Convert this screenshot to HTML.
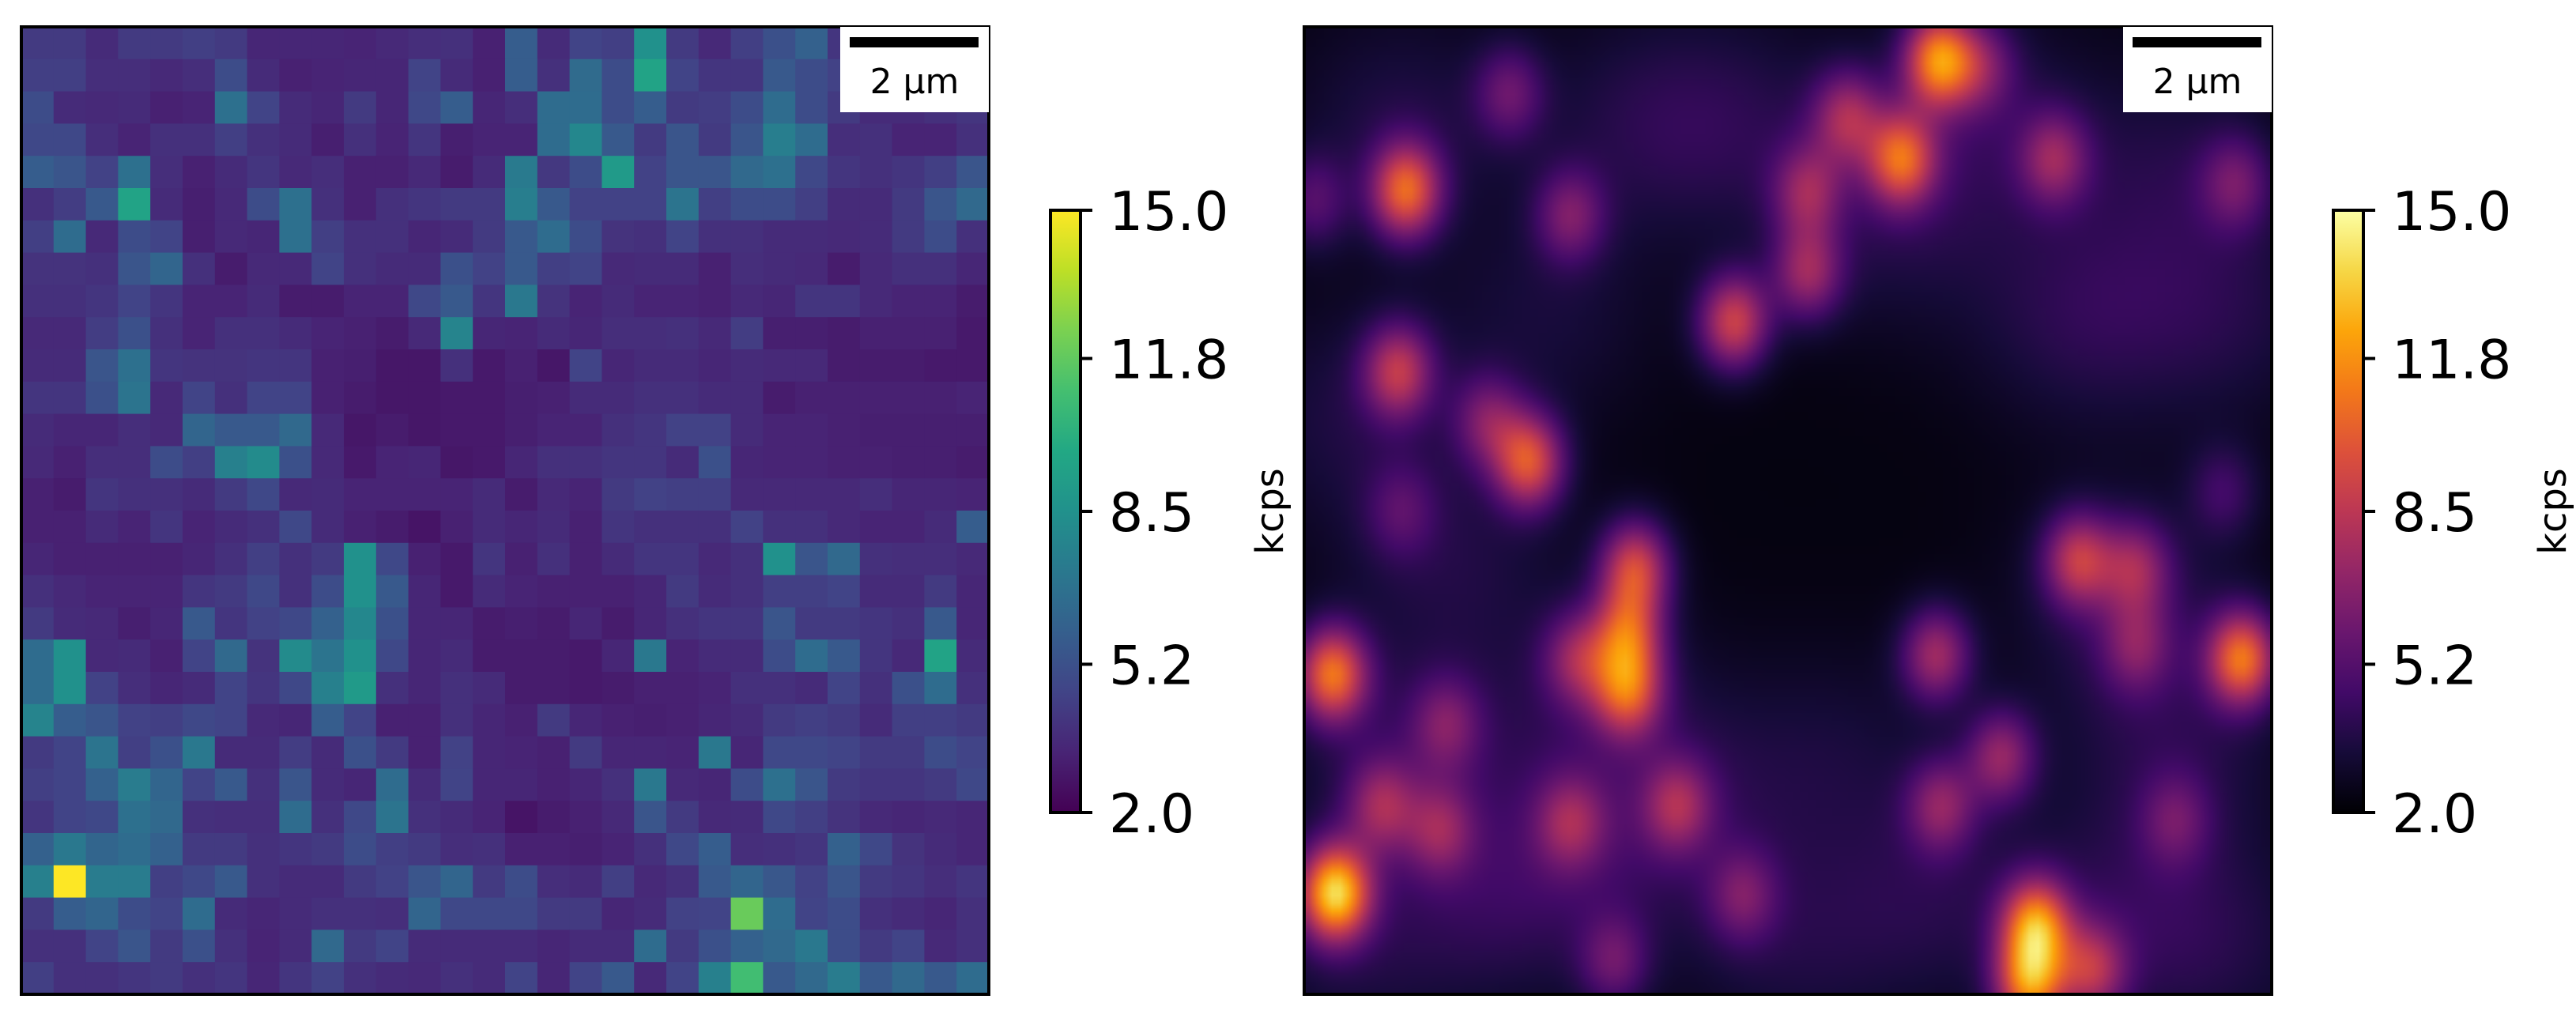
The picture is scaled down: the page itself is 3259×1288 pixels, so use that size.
<!DOCTYPE html>
<html>
<head>
<meta charset="utf-8">
<style>
html,body{margin:0;padding:0;background:#fff;}
body{width:3259px;height:1288px;position:relative;overflow:hidden;font-family:"DejaVu Sans","Liberation Sans",sans-serif;}
#chart{position:absolute;left:0;top:0;}
#right-canvas{position:absolute;left:1650px;top:34px;width:1224px;height:1224px;}
</style>
</head>
<body>
<canvas id="right-canvas" width="122" height="122"></canvas>
<svg id="chart" width="3259" height="1288" xmlns="http://www.w3.org/2000/svg">
  <defs>
    <linearGradient id="viridisGrad" x1="0" y1="1" x2="0" y2="0"></linearGradient>
    <linearGradient id="infernoGrad" x1="0" y1="1" x2="0" y2="0"></linearGradient>
  </defs>
  <g id="left-heatmap"></g>
  <rect x="27" y="34" width="1224" height="1224" fill="none" stroke="#000" stroke-width="4"/>
  <rect x="1650" y="34" width="1224" height="1224" fill="none" stroke="#000" stroke-width="4"/>

  <g>
    <rect x="1063" y="34" width="188" height="108" fill="#fff"/>
    <rect x="1075" y="47" width="163" height="13" fill="#000"/>
    <text x="1157" y="118" font-size="44" text-anchor="middle" fill="#000">2 µm</text>
  </g>
  <g>
    <rect x="2686" y="34" width="188" height="108" fill="#fff"/>
    <rect x="2698" y="47" width="163" height="13" fill="#000"/>
    <text x="2780" y="118" font-size="44" text-anchor="middle" fill="#000">2 µm</text>
  </g>

  <g id="left-colorbar">
    <rect x="1329" y="266" width="38" height="762" fill="url(#viridisGrad)" stroke="#000" stroke-width="4"/>
  </g>
  <g id="right-colorbar">
    <rect x="2952" y="266" width="38" height="762" fill="url(#infernoGrad)" stroke="#000" stroke-width="4"/>
  </g>
  <text x="1610" y="647" font-size="48" text-anchor="middle" transform="rotate(-90 1610 647)" dominant-baseline="middle">kcps</text>
  <text x="3233" y="647" font-size="48" text-anchor="middle" transform="rotate(-90 3233 647)" dominant-baseline="middle">kcps</text>
</svg>
<script>
// ---- data ----
const cbTicks = [2.0, 5.2, 8.5, 11.8, 15.0];
const cbTickLabels = ["2.0", "5.2", "8.5", "11.8", "15.0"];
const vMin = 2.0;
const vMax = 15.0;
const rawRows = [
[4.2,4.2,3.6,4.2,4.2,4.4,4.2,3.4,3.4,3.4,3.3,3.5,3.7,3.8,3.2,5.8,3.6,4.6,4.4,8.5,4.2,3.5,4.4,5.2,6,4,4,4,4,4],
[4.4,4.4,3.7,3.7,3.5,3.7,5,3.6,3.2,3.3,3.4,3.4,4.6,3.6,3.2,5.8,3.8,6.5,5,9.5,4.6,4,4,5.6,5,4.5,4.2,4.2,4.2,4.2],
[5,3.6,3.5,3.6,3.2,3.3,6.8,4.6,3.6,3.4,4.2,3.4,4.8,5.8,3.4,3.7,6.6,6.6,5,5.8,4.2,4.3,5,6.6,5,4.2,3.6,3.6,3.8,4],
[4.8,4.8,3.7,3.3,3.8,3.8,4.4,3.8,3.6,3.1,3.8,3.3,4,3.1,3.3,3.3,6.6,8,5.6,4.2,5.4,4.2,5.4,7.5,6.6,3.7,3.8,3.3,3.3,3.8],
[5.8,5.4,4.5,6.8,3.7,3.2,3.6,4,3.5,3.7,3.2,3.2,3.5,3,3.6,7.3,4.1,5,9,4.5,5.4,5.4,6.4,6.8,4.8,4,3.8,4,4.4,5.4],
[3.8,4.3,5.6,9.5,3.6,3.1,3.5,5,6.8,3.8,3.2,3.8,4,4.2,4.2,7.5,5.6,4.5,4.5,4.5,7,4.4,5,5,4.4,3.6,3.6,4.2,5.4,6.4],
[4.4,6.6,3.5,5,4.6,3.1,3.5,3.4,6.8,4.4,3.8,3.8,3.4,3.6,4.2,5.6,6.6,5,3.9,3.8,4.6,3.8,3.8,3.6,3.6,3.5,3.6,4.2,5,3.8],
[3.9,3.9,3.8,5.4,6.2,3.8,3,3.5,3.5,4.6,3.8,3.6,3.6,5.2,4.5,5.6,4.4,4.6,3.5,3.6,3.6,3.2,3.7,3.6,3.5,3,3.5,3.8,3.8,3.4],
[3.8,3.8,4,4.6,4,3.3,3.3,3.6,3,3,3.3,3.3,4.8,5.6,4,7.2,3.9,3.3,3.6,3.3,3.3,3.2,3.5,3.4,4,4,3.5,3.3,3.3,3],
[3.5,3.5,4.3,5.2,3.8,3.3,3.8,3.8,3.6,3.3,3.2,3,3.5,7.8,3.4,3.3,3.6,3.4,3.7,3.7,3.8,3.5,4.3,3.1,3.1,3,3.2,3.2,3.2,2.9],
[3.6,3.6,5.4,6.8,4,3.9,3.9,4,4,3.2,3.1,2.8,2.8,3.8,2.9,3.2,2.8,4.6,3.4,3.6,3.6,3.4,3.6,3.5,3.5,3,3,3,2.9,2.9],
[4,4,5.2,7,3.5,4.6,3.8,4.6,4.6,3.2,3,2.8,2.8,2.9,2.9,3.1,3.2,3.6,3.6,3.8,3.8,3.6,3.6,3,3.2,3.2,3.2,3.2,3.2,3.3],
[3.6,3.4,3.4,3.7,3.5,6.2,5.6,5.6,6.4,3.5,2.8,3,2.8,2.9,2.9,3.1,3.3,3.3,3.8,4,4.5,4.5,3.6,3.3,3.3,3.2,3.1,3.1,3.1,3.1],
[3.5,3.2,3.7,3.7,5,4.4,7.6,8.2,5.2,3.5,2.9,3.3,3.4,2.8,2.9,3.4,3.8,3.8,4,4,3.6,5.2,3.4,3.3,3.3,3.2,3.2,3.1,3.1,3],
[3.2,3,4,3.8,3.8,3.6,4.2,4.8,3.5,3.6,3.3,3.3,3.3,3.3,3.6,3,3.5,3.3,4.2,4.5,4.4,4.4,3.5,3.5,3.5,3.5,3.7,3.4,3.4,3.3],
[3.2,3.2,3.6,3.3,4,3.3,3.6,3.8,4.8,3.6,3.2,3,2.7,3.2,3.6,3.4,3.6,3.2,4,3.8,3.8,3.8,4.5,3.8,3.8,3.5,3.3,3.3,3.6,5.8],
[3.4,3.2,3.2,3.2,3.2,3.4,3.8,4.4,3.8,4.2,8.5,4.8,3.2,2.9,4,3.2,3.8,3.2,3.6,4,4,3.5,3.8,8.5,5.4,6.4,3.8,3.7,3.7,3.5],
[3.8,3.5,3.3,3.3,3.3,4,4.2,4.8,3.8,5,8.5,5.6,3.4,2.9,3.6,3.3,3.2,3.2,3.2,3.4,4.2,3.6,3.8,4.4,4.4,4.6,3.6,3.6,4.2,3.4],
[4.2,3.6,3.5,3.1,3.4,5.6,4,4.5,4.8,6,8,5.2,3.4,3.4,3,3.1,3,3.4,3,3.4,3.8,4,4,5.4,4.2,4.2,4,3.8,5.6,3.4],
[6.6,8.5,3.5,3.6,3.2,4.6,6.4,3.9,8.2,7,8.5,4.8,3.4,3.6,3,3,3,2.9,3.4,7.2,3.3,3.6,3.6,5,6.6,5.6,4,3.5,9.5,3.6],
[6.6,8.5,4.5,3.7,3.4,3.6,4.6,4,4.8,7.6,9,3.8,3.4,3.8,3.6,3,3,2.9,3,3.2,3.2,3.3,3.8,3.8,3.6,4.6,3.8,5.2,6.6,3.8],
[7.8,5.8,5.4,4.5,4.4,4.8,4.6,3.5,3.4,5.8,4.6,3.2,3.2,3.8,3.4,3.2,4.2,3.4,3.2,3.1,3.2,3.4,3.6,4.2,4.4,4.2,3.6,4.4,4.4,4.2],
[4.2,4.6,7,4.4,5.2,7.2,3.6,3.6,4.3,3.6,5.2,4.2,3.2,4.5,3.4,3.3,3.2,4.2,3.4,3.4,3.3,7.2,3.4,4.8,4.8,4.6,4.2,4.2,5,4.6],
[4.4,4.6,6,7.4,6.2,4.6,5.6,3.8,5.4,3.6,3.4,6.6,3.6,4.6,3.4,3.4,3.2,3.4,3.8,7.2,3.5,3.4,5,6.8,5.4,4.2,4,4,4.2,4.8],
[4,4.6,4.8,6.8,6.4,3.8,3.7,3.7,6.6,3.8,4.8,7,3.8,3.6,3.3,2.7,3,3.2,3.5,5.4,4.2,3.5,3.6,4.8,4.4,3.9,3.5,3.4,3.5,3.4],
[6,7.2,6.2,6.6,6,4.2,4.2,3.8,4,4.2,5,4.4,4.2,3.7,3.8,3.2,3.2,3.1,3.3,3.8,4.8,5.8,3.7,3.8,4,6,4.8,3.9,3.6,3.4],
[7.6,15,7.4,7.4,4.4,4.8,5.6,3.8,3.6,3.6,4.2,4.5,5.4,6.2,4.2,5,3.7,3.6,4.4,3.5,3.8,5.6,6.2,5.5,4.5,5.4,4.2,4,3.7,4],
[4.2,5.8,6.2,5,4.6,6.6,3.6,3.4,3.6,3.8,3.8,3.7,6.2,4.8,4.8,4.8,4.2,4.2,3.4,3.6,4.5,4.6,12,6.6,4.6,5,3.8,3.6,3.4,3.8],
[3.8,3.8,4.6,5.4,4.2,5.2,3.8,3.3,3.6,6.4,4.2,4.6,3.6,3.6,3.6,3.6,3.4,3.6,3.6,6.6,4.2,5.2,6,6.4,7.2,5,4.2,4.6,3.5,3.8],
[4.4,3.8,3.8,4,4.2,3.8,4,3.4,4,4.5,3.8,3.6,3.5,3.8,3.6,4.6,3.4,4.6,5.6,3.5,4.6,7.6,11,5.6,6.4,7.4,5.6,6.4,5.6,6.6]
];
// smoothed image: spots (fractional x, y, amplitude kcps above background)
const spotX = [0.656,0.617,0.561,0.52,0.105,0.212,0.444,0.52,0.097,0.232,0.19,0.275,0.775,0.962,0.342,0.334,0.334,0.283,0.029,0.8,0.859,0.969,0.653,0.72,0.658,0.032,0.08,0.14,0.756,0.75,0.814,0.386,0.275,0.453,0.32,0.147,0.86,0.7,0.01,0.1,0.95,0.9];
const spotY = [0.034,0.136,0.093,0.17,0.169,0.068,0.305,0.254,0.356,0.449,0.407,0.195,0.136,0.161,0.559,0.627,0.686,0.653,0.669,0.551,0.559,0.653,0.649,0.754,0.805,0.895,0.805,0.83,0.929,0.99,0.975,0.805,0.822,0.898,0.966,0.72,0.64,0.04,0.18,0.5,0.48,0.82];
const spotAmp = [8.5,7,4.5,4,7.5,3,6.5,4.5,5.5,7,3.5,3.5,4,3,6.5,6,6.5,4,8,5.5,4,8,5,4.5,4,10.5,4,3.5,8.5,8,5,4,3.5,3,3,3,3,3,2.5,2,2,2.5];
// broad background regions (fractional x, y, amplitude)
const bgX = [0.1,0.35,0.8,0.95,0.85,0.9,0.1,0.2,0.5,0.65,0.85,0.05,0.15,0.6,0.7,0.4,0.25,0.3,0.95,0.55,0.45,0.9,0.05,0.3];
const bgY = [0.1,0.1,0.3,0.3,0.6,0.75,0.75,0.9,0.95,0.9,0.92,0.4,0.55,0.2,0.1,0.8,0.3,0.85,0.95,0.75,0.1,0.15,0.95,0.7];
const bgAmp = [1.3,1.2,1.5,1.2,1.5,1.3,1.5,1.4,1.1,1.3,1.3,1.2,1.2,1.2,1.4,1.0,1.0,1.2,1.0,0.9,1.1,1.2,1.1,1.1];
const bgLevel = 2.3;

// ---- colormaps ----
const viridis = ["#440154","#482475","#414487","#355f8d","#2a788e","#21918c","#22a884","#44bf70","#7ad151","#bddf26","#fde725"];
const inferno = ["#000004","#160b39","#420a68","#6a176e","#932667","#bc3754","#dd513a","#f37819","#fca50a","#f6d746","#fcffa4"];
function hex2rgb(h){return [parseInt(h.substr(1,2),16),parseInt(h.substr(3,2),16),parseInt(h.substr(5,2),16)];}
const virRGB = viridis.map(hex2rgb), infRGB = inferno.map(hex2rgb);
function cmap(stops, v){
  let t = (v - vMin) / (vMax - vMin); t = Math.max(0, Math.min(1, t));
  const p = t * (stops.length - 1); const i = Math.min(stops.length - 2, Math.floor(p)); const f = p - i;
  const a = stops[i], b = stops[i+1];
  return [0,1,2].map(k => Math.round(a[k] + (b[k]-a[k]) * f));
}
function rgbStr(c){return "rgb(" + c.join(",") + ")";}

const NS = "http://www.w3.org/2000/svg";
function fillGrad(id, stops){
  const g = document.getElementById(id);
  stops.forEach((c, i) => {
    const s = document.createElementNS(NS, "stop");
    s.setAttribute("offset", (i / (stops.length - 1)));
    s.setAttribute("stop-color", c);
    g.appendChild(s);
  });
}
fillGrad("viridisGrad", viridis);
fillGrad("infernoGrad", inferno);

// ---- left heatmap ----
const L = {x: 27, y: 34, size: 1224};
const nRows = rawRows.length, nCols = rawRows[0].length;
const cw = L.size / nCols, ch = L.size / nRows;
const gHeat = document.getElementById("left-heatmap");
rawRows.forEach((row, r) => {
  row.forEach((v, c) => {
    const rect = document.createElementNS(NS, "rect");
    rect.setAttribute("x", (L.x + c * cw).toFixed(2));
    rect.setAttribute("y", (L.y + r * ch).toFixed(2));
    rect.setAttribute("width", (cw + 0.6).toFixed(2));
    rect.setAttribute("height", (ch + 0.6).toFixed(2));
    rect.setAttribute("fill", rgbStr(cmap(virRGB, v)));
    
    
    gHeat.appendChild(rect);
  });
});

// ---- right smoothed image ----
const cv = document.getElementById("right-canvas");
const N = cv.width;
const ctx = cv.getContext("2d");
const img = ctx.createImageData(N, N);
const sx = 0.025, sy = 0.034, bs = 0.08;
for (let j = 0; j < N; j++) {
  const fy = (j + 0.5) / N;
  for (let i = 0; i < N; i++) {
    const fx = (i + 0.5) / N;
    let v = bgLevel;
    for (let k = 0; k < bgX.length; k++) {
      const dx = fx - bgX[k], dy = fy - bgY[k];
      v += bgAmp[k] * Math.exp(-(dx*dx + dy*dy) / (2*bs*bs));
    }
    for (let k = 0; k < spotX.length; k++) {
      const dx = (fx - spotX[k]) / sx, dy = (fy - spotY[k]) / sy;
      v += spotAmp[k] * Math.exp(-(dx*dx + dy*dy) / 2);
    }
    const c = cmap(infRGB, v);
    const o = (j * N + i) * 4;
    img.data[o] = c[0]; img.data[o+1] = c[1]; img.data[o+2] = c[2]; img.data[o+3] = 255;
  }
}
ctx.putImageData(img, 0, 0);

// ---- colorbar ticks ----
function cbAxis(v){ return 1028 - (v - vMin) / (vMax - vMin) * (1028 - 266); }
function addTicks(gid, x0){
  const g = document.getElementById(gid);
  cbTicks.forEach((v, i) => {
    const y = cbAxis(v);
    const ln = document.createElementNS(NS, "line");
    ln.setAttribute("x1", x0); ln.setAttribute("x2", x0 + 15);
    ln.setAttribute("y1", y); ln.setAttribute("y2", y);
    ln.setAttribute("stroke", "#000"); ln.setAttribute("stroke-width", "4");
    
    
    g.appendChild(ln);
    const t = document.createElementNS(NS, "text");
    t.setAttribute("x", x0 + 36); t.setAttribute("y", y + 25);
    t.setAttribute("font-size", "68");
    t.textContent = cbTickLabels[i];
    
    
    g.appendChild(t);
  });
}
addTicks("left-colorbar", 1367);
addTicks("right-colorbar", 2990);
</script>
</body>
</html>
